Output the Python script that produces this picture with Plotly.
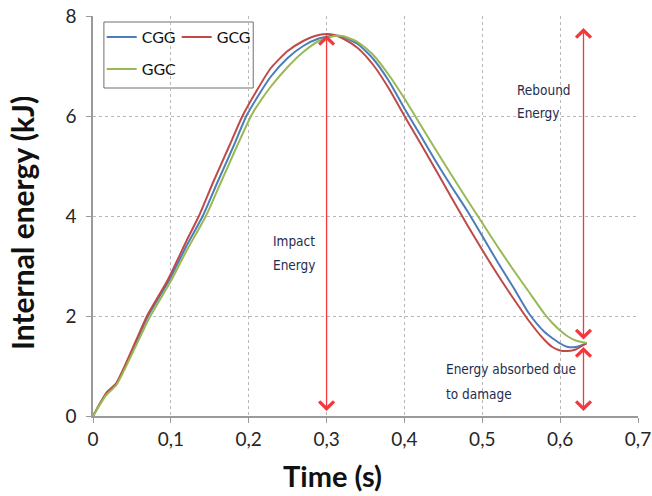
import plotly.graph_objects as go

# ---- data ----
t_cgg = [0, 0.017, 0.03, 0.055, 0.07, 0.098, 0.12, 0.141, 0.16, 0.18, 0.197, 0.212, 0.228,
         0.25, 0.27, 0.29, 0.31, 0.32, 0.34, 0.36, 0.38, 0.40, 0.42, 0.44, 0.46, 0.48, 0.50,
         0.52, 0.54, 0.56, 0.58, 0.60, 0.61, 0.62, 0.634]
e_cgg = [0, 0.45, 0.65, 1.45, 1.98, 2.72, 3.4, 4.0, 4.68, 5.38, 6.0, 6.4, 6.78,
         7.16, 7.4, 7.55, 7.61, 7.59, 7.44, 7.14, 6.7, 6.15, 5.63, 5.1, 4.6, 4.12, 3.6,
         3.07, 2.57, 2.05, 1.68, 1.45, 1.38, 1.38, 1.45]

t_gcg = [0, 0.017, 0.03, 0.055, 0.07, 0.096, 0.12, 0.136, 0.155, 0.175, 0.192, 0.21, 0.228,
         0.25, 0.27, 0.285, 0.30, 0.31, 0.32, 0.34, 0.36, 0.38, 0.40, 0.42, 0.44, 0.46, 0.48,
         0.50, 0.52, 0.54, 0.56, 0.58, 0.59, 0.60, 0.61, 0.62, 0.634]
e_gcg = [0, 0.46, 0.66, 1.5, 2.02, 2.72, 3.5, 4.0, 4.7, 5.4, 6.0, 6.5, 6.95,
         7.3, 7.5, 7.6, 7.64, 7.62, 7.56, 7.36, 7.02, 6.55, 6.0, 5.47, 4.93, 4.38, 3.84,
         3.32, 2.82, 2.35, 1.9, 1.52, 1.38, 1.31, 1.30, 1.33, 1.46]

t_ggc = [0, 0.017, 0.03, 0.055, 0.072, 0.1, 0.12, 0.145, 0.165, 0.185, 0.203, 0.215, 0.228,
         0.25, 0.27, 0.29, 0.31, 0.32, 0.34, 0.36, 0.38, 0.40, 0.42, 0.44, 0.46, 0.48, 0.50,
         0.52, 0.54, 0.56, 0.58, 0.59, 0.60, 0.61, 0.62, 0.634]
e_ggc = [0, 0.42, 0.62, 1.4, 1.95, 2.7, 3.3, 4.0, 4.7, 5.4, 6.0, 6.3, 6.58,
         6.98, 7.28, 7.5, 7.6, 7.6, 7.48, 7.22, 6.82, 6.35, 5.84, 5.33, 4.83, 4.34, 3.86,
         3.38, 2.92, 2.48, 2.04, 1.86, 1.71, 1.59, 1.51, 1.46]

series_names = ["CGG", "GCG", "GGC"]
x_ticks = [0, 0.1, 0.2, 0.3, 0.4, 0.5, 0.6, 0.7]
y_ticks = [0, 2, 4, 6, 8]

# arrows: (x, y_from, y_to)
impact_arrow = (0.3, 0.07, 7.62)
rebound_arrow = (0.63, 1.5, 7.76)
absorbed_arrow = (0.63, 0.07, 1.38)

# text notes: (x, y, text)
notes = [
    (0.228, 3.5, "Impact"), (0.228, 3.02, "Energy"),
    (0.542, 6.52, "Rebound"), (0.542, 6.06, "Energy"),
    (0.451, 0.94, "Energy absorbed due"), (0.451, 0.44, "to damage"),
]

# ---- styling ----
colors = {"CGG": "#4a7ebb", "GCG": "#be4b48", "GGC": "#98b954"}
arrow_color = "#f2383c"
note_color = "#1f2d4f"
note_font = "Liberation Sans Narrow, DejaVu Sans Condensed, Roboto Condensed, Roboto, sans-serif"
main_font = "Lato, Open Sans, sans-serif"

fig = go.Figure()
fig.add_trace(go.Scatter(x=t_cgg, y=e_cgg, mode="lines", name="CGG",
                         line=dict(color=colors["CGG"], width=2, shape="spline", smoothing=0.6),
                         legend="legend"))
fig.add_trace(go.Scatter(x=t_gcg, y=e_gcg, mode="lines", name="GCG",
                         line=dict(color=colors["GCG"], width=2, shape="spline", smoothing=0.6),
                         legend="legend"))
fig.add_trace(go.Scatter(x=t_ggc, y=e_ggc, mode="lines", name="GGC",
                         line=dict(color=colors["GGC"], width=2, shape="spline", smoothing=0.6),
                         legend="legend2"))

def dbl_arrow(x, y0, y1):
    fig.add_annotation(x=x, y=y1, ax=x, ay=y0, xref="x", yref="y", axref="x", ayref="y",
                       text="", showarrow=True, arrowside="end+start",
                       arrowhead=4, startarrowhead=4, arrowsize=2.2, startarrowsize=2.2,
                       arrowwidth=1.3, arrowcolor=arrow_color, standoff=0, startstandoff=0)

for a in (impact_arrow, rebound_arrow, absorbed_arrow):
    dbl_arrow(*a)

for nx, ny, txt in notes:
    fig.add_annotation(x=nx, y=ny, xref="x", yref="y", text=txt, showarrow=False,
                       xanchor="left", yanchor="middle", align="left",
                       font=dict(family=note_font, size=13.5, color=note_color))

# axis titles (placed as in the reference, slightly off-centre)
fig.add_annotation(x=0.44, y=-0.148, xref="paper", yref="paper", text="<b>Time (s)</b>",
                   showarrow=False, xanchor="center", yanchor="middle",
                   font=dict(family=main_font, size=29, color="#111111"))
fig.add_annotation(x=-0.129, y=0.482, xref="paper", yref="paper",
                   text="<b>Internal energy (kJ)</b>", textangle=-90,
                   showarrow=False, xanchor="center", yanchor="middle",
                   font=dict(family=main_font, size=30, color="#111111"))

# legend frame
fig.add_shape(type="rect", xref="paper", yref="paper", x0=0.02, x1=0.294, y0=0.82, y1=0.985,
              line=dict(color="#6f6f6f", width=1), fillcolor="white", layer="below")

fig.update_layout(
    width=652, height=496,
    margin=dict(l=93, r=14, t=16, b=80),
    paper_bgcolor="white", plot_bgcolor="white",
    separators=",.",
    font=dict(family=main_font, color="#262626"),
    showlegend=True,
    legend=dict(x=0.016, y=0.99, xanchor="left", yanchor="top", orientation="h",
                bgcolor="rgba(0,0,0,0)", borderwidth=0, font=dict(size=16, color="#111111"),
                entrywidth=30, tracegroupgap=0, itemwidth=30),
    legend2=dict(x=0.016, y=0.91, xanchor="left", yanchor="top", orientation="h",
                 bgcolor="rgba(0,0,0,0)", borderwidth=0, font=dict(size=16, color="#111111"),
                 itemwidth=30),
    xaxis=dict(range=[0, 0.7], tickvals=x_ticks, showgrid=True, gridcolor="#b8b8b8",
               griddash="dot", gridwidth=1, zeroline=False, showline=True, linecolor="#9a9a9a",
               linewidth=1.5, ticks="outside", ticklen=5, tickcolor="#9a9a9a",
               tickfont=dict(size=19, color="#262626"), automargin=False),
    yaxis=dict(range=[0, 8], tickvals=y_ticks, showgrid=True, gridcolor="#b8b8b8",
               griddash="dot", gridwidth=1, zeroline=False, showline=True, linecolor="#9a9a9a",
               linewidth=1.5, ticks="outside", ticklen=5, tickcolor="#9a9a9a",
               tickfont=dict(size=19, color="#262626"), ticklabelstandoff=6, automargin=False),
)

fig.write_html("out.html")
